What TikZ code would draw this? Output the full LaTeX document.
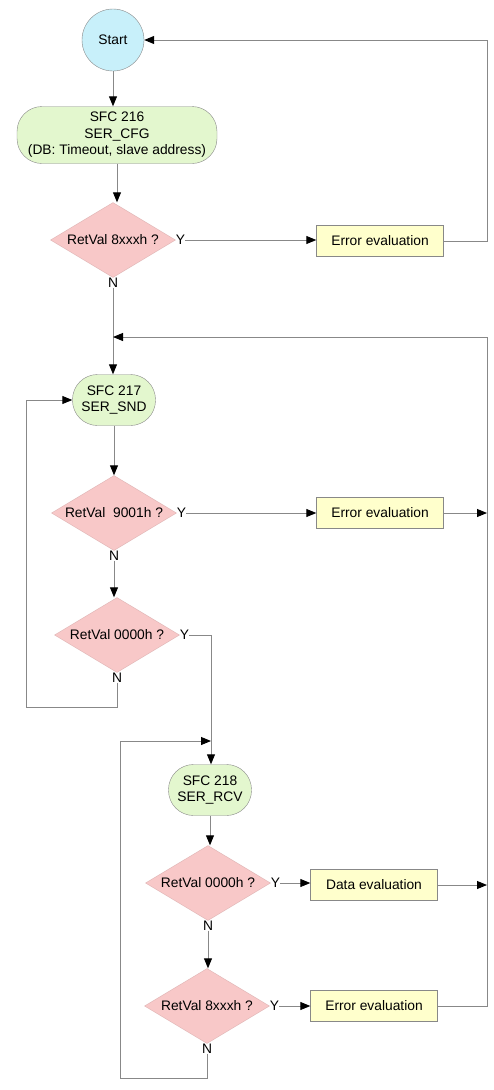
\documentclass[tikz,border=0pt]{standalone}
\usepackage{fontspec}
\setmainfont{Liberation Sans}
\usetikzlibrary{shapes.geometric,arrows.meta}
\definecolor{startfill}{HTML}{C8F0FA}
\definecolor{procfill}{HTML}{E3F7CE}
\definecolor{decfill}{HTML}{F8C8C8}
\definecolor{boxfill}{HTML}{FFFFCC}
\definecolor{linegray}{HTML}{888888}
\begin{document}
\begin{tikzpicture}[x=1pt,y=-1pt,
  every node/.style={font=\fontsize{13.8}{16.5}\selectfont},
  startnode/.style={circle,draw=linegray,fill=startfill,minimum size=62pt,inner sep=0pt},
  procnode/.style={rectangle,rounded corners=25pt,draw=linegray,fill=procfill,inner sep=0pt,align=center},
  decnode/.style={diamond,fill=decfill,draw=decfill!90!black,minimum width=125pt,minimum height=75pt,aspect=1.67,inner sep=0pt},
  evalnode/.style={rectangle,draw=linegray,fill=boxfill,minimum width=127pt,minimum height=31pt,inner sep=0pt},
  lbl/.style={inner sep=0pt},
  conn/.style={draw=linegray,line width=0.9pt},
  arr/.style={conn,-{Triangle[length=10pt,width=8pt,color=black]}}
]
\useasboundingbox (0,0) rectangle (493,1090);
\fill[white] (0,0) rectangle (493,1090);

% nodes
\node[startnode] (start) at (113,40) {Start};
\node[procnode,minimum width=200pt,minimum height=57pt] (cfg) at (117,135) {SFC 216\\SER\_CFG\\(DB: Timeout, slave address)};
\node[decnode] (d1) at (113,240) {RetVal 8xxxh ?};
\node[evalnode] (e1) at (380,241) {Error evaluation};

\node[procnode,minimum width=83pt,minimum height=51pt] (snd) at (114,400) {SFC 217\\SER\_SND};
\node[decnode] (d2) at (114,513) {RetVal\ \ 9001h ?};
\node[evalnode] (e2) at (380,513) {Error evaluation};
\node[decnode] (d3) at (117,635) {RetVal 0000h ?};

\node[procnode,minimum width=83pt,minimum height=51pt] (rcv) at (210,790) {SFC 218\\SER\_RCV};
\node[decnode] (d4) at (208,883) {RetVal 0000h ?};
\node[evalnode] (e3) at (374,885) {Data evaluation};
\node[decnode] (d5) at (207,1006) {RetVal 8xxxh ?};
\node[evalnode] (e4) at (374,1006) {Error evaluation};

% labels
\node[lbl,anchor=west] (y1) at (d1.east) {Y};
\node[lbl,anchor=north] (n1) at (d1.south) {N};
\node[lbl,anchor=west] (y2) at (d2.east) {Y};
\node[lbl,anchor=north] (n2) at (d2.south) {N};
\node[lbl,anchor=west] (y3) at (d3.east) {Y};
\node[lbl,anchor=north] (n3) at (d3.south) {N};
\node[lbl,anchor=west] (y4) at (d4.east) {Y};
\node[lbl,anchor=north] (n4) at (d4.south) {N};
\node[lbl,anchor=west] (y5) at (d5.east) {Y};
\node[lbl,anchor=north] (n5) at (d5.south) {N};

% coordinates
\coordinate (rr1) at (487,241);
\coordinate (rtop) at (487,40);
\coordinate (merge) at (113,337);
\coordinate (rmerge) at (487,337);
\coordinate (rr2) at (487,513);
\coordinate (rr3) at (487,885);
\coordinate (rr4) at (487,1006);
\coordinate (l1a) at (117,707);
\coordinate (l1b) at (26,707);
\coordinate (l1c) at (26,400);
\coordinate (y3a) at (211,635);
\coordinate (j2) at (211,741);
\coordinate (l2a) at (207,1078);
\coordinate (l2b) at (120,1078);
\coordinate (l2c) at (120,741);

% connectors
\draw[arr] (start.south) -- (start.south |- cfg.north);
\draw[arr] (cfg.south) -- (cfg.south |- d1.north);
\draw[arr] (y1.east) -- (y1.east -| e1.west);
\draw[arr] (e1.east) -- (rr1) -- (rtop) -- (start.east);
\draw[conn] (d1.south) -- (n1.north);
\draw[arr] (n1.south) -- (n1.south |- snd.north);
\draw[arr] (rmerge) -- (merge);

\draw[arr] (snd.south) -- (snd.south |- d2.north);
\draw[arr] (y2.east) -- (e2.west);
\draw[arr] (e2.east) -- (rr2);
\draw[conn] (d2.south) -- (n2.north);
\draw[arr] (n2.south) -- (n2.south |- d3.north);
\draw[conn] (d3.south) -- (n3.north);
\draw[arr] (n3.south) -- (l1a) -- (l1b) -- (l1c) -- (snd.west);
\draw[arr] (y3.east) -- (y3a) -- (y3a |- rcv.north);
\draw[arr] (l2c) -- (j2);

\draw[arr] (rcv.south) -- (rcv.south |- d4.north);
\draw[arr] (y4.east) -- (y4.east -| e3.west);
\draw[arr] (e3.east) -- (rr3);
\draw[conn] (d4.south) -- (n4.north);
\draw[arr] (n4.south) -- (n4.south |- d5.north);
\draw[arr] (y5.east) -- (e4.west);
\draw[conn] (e4.east) -- (rr4) -- (rmerge);
\draw[conn] (d5.south) -- (n5.north);
\draw[conn] (n5.south) -- (l2a) -- (l2b) -- (l2c);
\end{tikzpicture}
\end{document}
